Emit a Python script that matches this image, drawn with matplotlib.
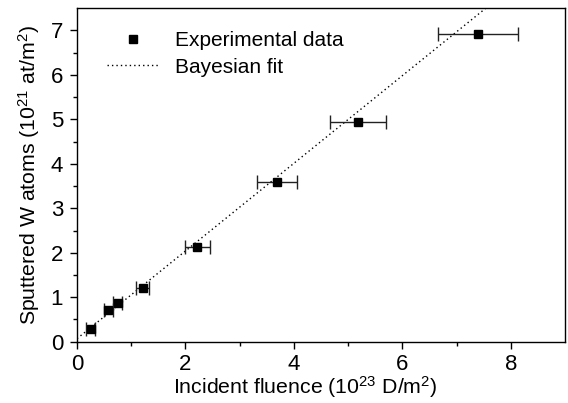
import numpy as np
import matplotlib
matplotlib.use("Agg")
import matplotlib.pyplot as plt

plt.rcParams['font.family'] = ['Liberation Sans', 'DejaVu Sans']
plt.rcParams['mathtext.default'] = 'regular'

# data
fluence = [0.25, 0.575, 0.75, 1.21, 2.22, 3.69, 5.18, 7.40]
fluence_err = [0.08, 0.08, 0.08, 0.12, 0.23, 0.37, 0.52, 0.74]
sputtered = [0.29, 0.72, 0.88, 1.20, 2.13, 3.59, 4.95, 6.92]

# Bayesian fit line
fit_slope = 0.985
fit_intercept = 0.07

fig = plt.figure(figsize=(5.68, 4.03), dpi=100)
ax = fig.add_axes([0.1356, 0.152, 0.859, 0.828])

fit_x = np.array([0, 9])
ax.plot(fit_x, fit_slope * fit_x + fit_intercept, color='black', lw=1,
        linestyle=(0, (1, 2.2)), label='Bayesian fit')

ax.errorbar(fluence, sputtered, xerr=fluence_err, fmt='none', ecolor='#222222',
            elinewidth=1, capsize=5, capthick=1)
ax.plot(fluence, sputtered, 's', color='black', ms=5.5, label='Experimental data')

ax.set_xlim(0, 9)
ax.set_ylim(0, 7.5)
ax.set_xticks([0, 2, 4, 6, 8])
ax.set_xticks([1, 3, 5, 7], minor=True)
ax.set_yticks(range(8))
ax.set_yticks(np.arange(0.5, 7.5, 1), minor=True)
ax.tick_params(which='major', direction='out', length=5, width=1, labelsize=16)
ax.tick_params(which='minor', direction='out', length=3, width=1)
ax.tick_params(axis='x', which='major', pad=3.5)
ax.tick_params(axis='y', which='major', pad=5)
for s in ax.spines.values():
    s.set_linewidth(1)

ax.set_xlabel('Incident fluence (10$^{23}$ D/m$^2$)', fontsize=15.3, labelpad=-0.5)
ax.xaxis.label.set_x(0.467)
ax.set_ylabel('Sputtered W atoms (10$^{21}$ at/m$^2$)', fontsize=15.3, labelpad=6)

h, l = ax.get_legend_handles_labels()
ax.legend(h[::-1], l[::-1], loc='upper left', bbox_to_anchor=(0.0615, 0.93),
          frameon=False, fontsize=15, handlelength=2.45, handletextpad=0.8,
          labelspacing=0.35, borderpad=0, borderaxespad=0)

fig.savefig('out.png', dpi=100)
